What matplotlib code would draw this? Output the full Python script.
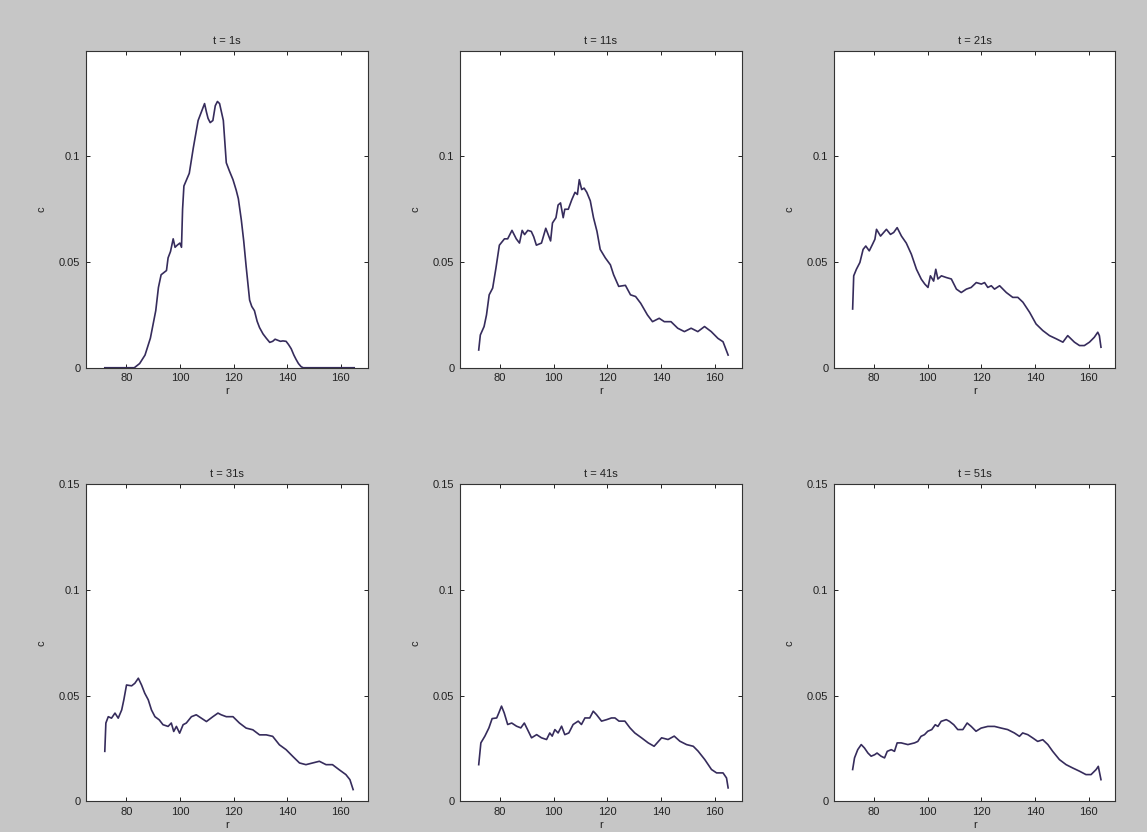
import matplotlib
matplotlib.use('Agg')
import matplotlib.pyplot as plt

plt.rcParams['font.family'] = ['Liberation Sans', 'DejaVu Sans']

# --- data ---
titles = ['t = 1s', 't = 11s', 't = 21s', 't = 31s', 't = 41s', 't = 51s']

r1 = [72, 80, 83, 85, 87, 89, 91, 92, 93, 94,
      95, 95.6, 96.5, 97.5, 98.2, 99, 100, 100.6, 101, 101.5,
      102.5, 103.5, 105, 106.8, 108, 109.2, 109.9, 110.5, 111.3, 112.3,
      113.2, 114, 114.8, 115.5, 116.2, 117.3, 118.5, 119.8, 121, 121.8,
      122.9, 123.8, 124.7, 126, 126.8, 127.8, 128.8, 129.7, 131, 132.2,
      133.5, 134.6, 135.5, 136.5, 137.5, 138.4, 139.6, 140.5, 141.5, 142.5,
      143.3, 144.2, 145.2, 146, 150, 165]
c1 = [0, 0, 0, 0.002, 0.006, 0.014, 0.027, 0.038, 0.044, 0.045,
      0.046, 0.052, 0.055, 0.061, 0.057, 0.058, 0.059, 0.057, 0.075, 0.086,
      0.089, 0.092, 0.104, 0.117, 0.121, 0.125, 0.121, 0.118, 0.116, 0.117,
      0.124, 0.126, 0.125, 0.121, 0.117, 0.097, 0.093, 0.089, 0.084, 0.080,
      0.070, 0.060, 0.048, 0.032, 0.029, 0.027, 0.022, 0.019, 0.016, 0.014,
      0.012, 0.0125, 0.0135, 0.013, 0.0125, 0.0127, 0.0125, 0.011, 0.009, 0.006,
      0.004, 0.002, 0.0005, 0, 0, 0]

r2 = [72, 72.6, 74, 74.9, 75.9, 77.2, 78.4, 79.7, 81.6, 82.8,
      84.4, 86, 87.2, 88.2, 89.1, 90.3, 91.6, 92.5, 93.5, 95.4,
      97, 97.9, 98.8, 99.5, 100.8, 101.6, 102.5, 103.5, 104.1, 105.4,
      106.7, 107.9, 108.8, 109.5, 110.4, 111.3, 112.3, 113.6, 114.8, 116.1,
      117.3, 119.2, 121.1, 122.3, 124.2, 126.7, 128.6, 130.5, 132.4, 134.9,
      136.8, 139.3, 141.2, 143.7, 146.2, 148.7, 151.2, 153.7, 156.2, 158.7,
      161.2, 163.1, 165]
c2 = [0.0084, 0.0155, 0.0195, 0.025, 0.0345, 0.0377, 0.047, 0.058, 0.061, 0.061,
      0.065, 0.061, 0.059, 0.065, 0.063, 0.065, 0.0645, 0.062, 0.058, 0.059,
      0.066, 0.063, 0.060, 0.0685, 0.071, 0.077, 0.078, 0.071, 0.075, 0.075,
      0.0795, 0.083, 0.082, 0.089, 0.0843, 0.085, 0.083, 0.079, 0.071, 0.0645,
      0.056, 0.052, 0.0487, 0.044, 0.0385, 0.039, 0.0345, 0.0337, 0.0305, 0.025,
      0.0218, 0.0234, 0.0218, 0.0218, 0.0187, 0.0171, 0.0187, 0.0171, 0.0195, 0.0171,
      0.0139, 0.0123, 0.006]

r3 = [72, 72.4, 73.4, 74.7, 75.9, 76.9, 78.2, 79.4, 80.3, 80.9,
      82.4, 84.6, 86.1, 87.3, 88.6, 90.2, 92, 93.9, 95.8, 97.6,
      98.9, 100.1, 101, 102.2, 103, 103.8, 105.1, 106.9, 108.8, 110.7,
      112.5, 114.4, 116.2, 118.1, 120, 121.2, 122.4, 123.7, 124.9, 126.8,
      129.3, 131.7, 133.6, 135.5, 138, 140.4, 142.9, 145.4, 147.9, 150.4,
      152.2, 154.7, 156.6, 158.4, 160.3, 162.1, 163.4, 164, 164.6]
c3 = [0.0278, 0.0435, 0.0466, 0.0498, 0.056, 0.0576, 0.0553, 0.0584, 0.0608, 0.0655,
      0.0623, 0.0655, 0.0631, 0.064, 0.0663, 0.0623, 0.059, 0.0537, 0.0466, 0.0419,
      0.0396, 0.038, 0.0435, 0.041, 0.0466, 0.042, 0.0435, 0.0427, 0.042, 0.0372,
      0.0356, 0.0372, 0.038, 0.0403, 0.0396, 0.0403, 0.038, 0.0388, 0.0372, 0.0388,
      0.0356, 0.0333, 0.0333, 0.031, 0.0262, 0.0207, 0.0176, 0.0152, 0.0137, 0.0121,
      0.0152, 0.0121, 0.0105, 0.0105, 0.0121, 0.0144, 0.0168, 0.0152, 0.0097]

r4 = [72, 72.4, 73.3, 74.5, 75.8, 77, 78.3, 79.1, 80.1, 82,
      83.2, 84.5, 85.7, 86.9, 88.2, 89.4, 90.7, 92.3, 93.7, 95.6,
      96.8, 97.7, 98.7, 99.9, 101.2, 102.4, 104.3, 106.1, 108, 109.9,
      112.3, 114.2, 115.4, 117.3, 119.8, 121, 122.2, 124.7, 127.2, 129.7,
      132.2, 134.6, 137.1, 139.6, 142.1, 144.6, 147, 149.5, 152, 154.5,
      156.9, 159.4, 161.9, 163.4, 164.6]
c4 = [0.0236, 0.037, 0.040, 0.0393, 0.0417, 0.0393, 0.0432, 0.048, 0.055, 0.0546,
      0.0558, 0.0582, 0.055, 0.0511, 0.048, 0.0432, 0.040, 0.0385, 0.0362, 0.0354,
      0.037, 0.033, 0.0354, 0.0322, 0.0362, 0.037, 0.040, 0.0409, 0.0393, 0.0377,
      0.040, 0.0417, 0.0409, 0.040, 0.040, 0.0385, 0.037, 0.0346, 0.0338, 0.0314,
      0.0314, 0.0307, 0.0267, 0.0244, 0.0212, 0.0181, 0.0173, 0.0181, 0.0189, 0.0173,
      0.0173, 0.0149, 0.0126, 0.0102, 0.0055]

r5 = [72, 72.8, 74.3, 75.8, 77, 78.7, 79.5, 80.5, 81.5, 82.8,
      84.3, 86.1, 87.7, 89, 90.2, 91.7, 93.6, 95.4, 97.3, 98.5,
      99.4, 100.4, 101.6, 102.9, 104.1, 105.6, 107.2, 109.1, 110.3, 111.6,
      113.4, 114.7, 115.9, 117.8, 119.7, 121.5, 122.8, 124.3, 126.5, 128.4,
      130.2, 132.7, 135.2, 137.4, 140.2, 142.6, 144.9, 147, 149.5, 152,
      153.8, 156.3, 158.8, 160.7, 163.1, 164.4, 165]
c5 = [0.0173, 0.0276, 0.0308, 0.0347, 0.0391, 0.0394, 0.0418, 0.045, 0.0418, 0.0363,
      0.037, 0.0355, 0.0347, 0.037, 0.0339, 0.030, 0.0315, 0.030, 0.0292, 0.0323,
      0.0308, 0.0339, 0.0323, 0.0355, 0.0315, 0.0323, 0.0363, 0.0379, 0.0363, 0.0394,
      0.0394, 0.0426, 0.041, 0.0379, 0.0386, 0.0394, 0.0394, 0.0379, 0.0379, 0.0347,
      0.0323, 0.030, 0.0276, 0.026, 0.030, 0.0292, 0.0308, 0.0284, 0.0268, 0.026,
      0.0237, 0.0197, 0.015, 0.0134, 0.0134, 0.011, 0.0063]

r6 = [72, 72.7, 73.9, 75.2, 76.4, 77.7, 78.9, 80.2, 81.1, 82.6,
      83.9, 84.9, 86.4, 87.6, 88.6, 90.1, 92.6, 95.1, 96.3, 97.5,
      98.8, 100, 101.5, 102.8, 103.8, 105, 106.9, 108.1, 109.7, 111.2,
      113.1, 114.7, 116.2, 118, 119.9, 122.4, 124.9, 127.4, 129.8, 132.3,
      134.2, 135.4, 137.3, 139.2, 141, 142.9, 144.8, 146.6, 149.1, 151.6,
      154.1, 156.6, 159, 160.9, 162.8, 163.6, 164.6]
c6 = [0.015, 0.0205, 0.0244, 0.0268, 0.0252, 0.0228, 0.0213, 0.022, 0.0228, 0.0213,
      0.0205, 0.0236, 0.0244, 0.0236, 0.0276, 0.0276, 0.0268, 0.0276, 0.0283, 0.0307,
      0.0315, 0.0331, 0.0339, 0.0362, 0.0354, 0.0378, 0.0386, 0.0378, 0.0362, 0.0339,
      0.0339, 0.037, 0.0354, 0.0331, 0.0346, 0.0354, 0.0354, 0.0346, 0.0339, 0.0323,
      0.0307, 0.0323, 0.0315, 0.0299, 0.0283, 0.0291, 0.0268, 0.0236, 0.0197, 0.0173,
      0.0157, 0.0142, 0.0126, 0.0126, 0.015, 0.0165, 0.0102]

x_ticks = [80, 100, 120, 140, 160]
y_ticks_top = [0, 0.05, 0.1]
y_ticks_bottom = [0, 0.05, 0.1, 0.15]
y_labels_top = ['0', '0.05', '0.1']
y_labels_bottom = ['0', '0.05', '0.1', '0.15']

series = [(r1, c1), (r2, c2), (r3, c3), (r4, c4), (r5, c5), (r6, c6)]

# --- figure ---
fig = plt.figure(figsize=(11.47, 8.32), dpi=100)
fig.patch.set_facecolor('#c6c6c6')

lefts = [0.075, 0.401, 0.727]
bottoms = [0.558, 0.037]
w, h = 0.2455, 0.381

for i, (r, c) in enumerate(series):
    row, col = divmod(i, 3)
    ax = fig.add_axes([lefts[col], bottoms[row], w, h])
    ax.set_facecolor('white')
    ax.plot(r, c, color='#362c5c', linewidth=1.2)
    ax.set_xlim(65, 170)
    ax.set_ylim(0, 0.15)
    ax.set_xticks(x_ticks)
    ax.set_xticklabels([str(t) for t in x_ticks])
    if row == 0:
        ax.set_yticks(y_ticks_top)
        ax.set_yticklabels(y_labels_top)
    else:
        ax.set_yticks(y_ticks_bottom)
        ax.set_yticklabels(y_labels_bottom)
    ax.tick_params(direction='in', length=3, width=0.7, top=True, right=True,
                   labelsize=8, colors='#222222', pad=4)
    for s in ax.spines.values():
        s.set_linewidth(0.8)
        s.set_color('#333333')
    ax.set_title(titles[i], fontsize=8, pad=5, color='#222222')
    ax.set_xlabel('r', fontsize=8, labelpad=2, color='#222222')
    ax.set_ylabel('c', fontsize=8, labelpad=9, color='#222222')

plt.savefig('out.png', dpi=100, facecolor=fig.get_facecolor())
